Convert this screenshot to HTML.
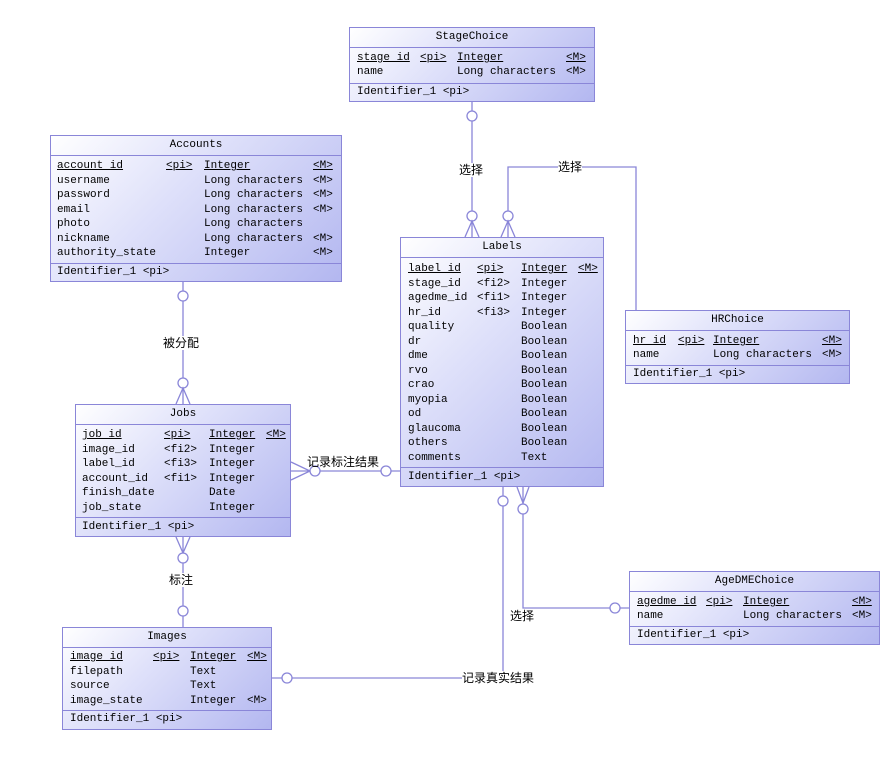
<!DOCTYPE html>
<html><head><meta charset="utf-8"><style>
body{margin:0;width:886px;height:767px;background:#fff;position:relative;overflow:hidden;font-family:"Liberation Mono","Noto Sans CJK SC",monospace;font-size:11px;color:#000}
.e{position:absolute;border:1px solid #8a86d8;background:linear-gradient(135deg,#ffffff 0%,#dfe1fa 40%,#b3b7f0 100%);box-sizing:border-box}
.t{position:absolute;left:0;right:0;top:0;height:19px;line-height:19px;text-align:center;border-bottom:1px solid #8a86d8}
.s{position:absolute;left:0;right:0;border-top:1px solid #8a86d8}
.r{position:absolute;left:0;right:0;height:14px;line-height:14px;white-space:nowrap}
.r span{position:absolute;top:0}
.u{text-decoration:underline}
.lb{position:absolute;font-family:"Liberation Sans","Noto Sans CJK SC",sans-serif;font-size:12px;background:#fff;line-height:14px;white-space:nowrap}
svg{position:absolute;left:0;top:0}
</style></head><body>
<svg width="886" height="767" fill="none" stroke="#8a86d8" stroke-width="1.3">
<line x1="472" y1="102" x2="472" y2="237"/>
<circle cx="472" cy="116" r="5" fill="#fff"/>
<circle cx="472" cy="216" r="5" fill="#fff"/>
<polyline points="465,237 472,221 479,237"/>
<polyline points="508,237 508,167 636,167 636,310"/>
<circle cx="508" cy="216" r="5" fill="#fff"/>
<polyline points="501,237 508,221 515,237"/>
<line x1="183" y1="282" x2="183" y2="404"/>
<circle cx="183" cy="296" r="5" fill="#fff"/>
<circle cx="183" cy="383" r="5" fill="#fff"/>
<polyline points="176,404 183,388 190,404"/>
<line x1="291" y1="471" x2="400" y2="471"/>
<polyline points="291,462 310,471 291,480"/>
<circle cx="315" cy="471" r="5" fill="#fff"/>
<circle cx="386" cy="471" r="5" fill="#fff"/>
<line x1="183" y1="537" x2="183" y2="627"/>
<polyline points="176,537 183,553 190,537"/>
<circle cx="183" cy="558" r="5" fill="#fff"/>
<circle cx="183" cy="611" r="5" fill="#fff"/>
<polyline points="503,487 503,678 272,678"/>
<circle cx="503" cy="501" r="5" fill="#fff"/>
<circle cx="287" cy="678" r="5" fill="#fff"/>
<polyline points="523,487 523,608 629,608"/>
<polyline points="517,487 523,503 529,487"/>
<circle cx="523" cy="509" r="5" fill="#fff"/>
<circle cx="615" cy="608" r="5" fill="#fff"/>
</svg>
<div class="lb" style="left:459px;top:163px">选择</div>
<div class="lb" style="left:558px;top:160px">选择</div>
<div class="lb" style="left:163px;top:336px">被分配</div>
<div class="lb" style="left:307px;top:455px;background:none">记录标注结果</div>
<div class="lb" style="left:169px;top:573px">标注</div>
<div class="lb" style="left:510px;top:609px;background:none">选择</div>
<div class="lb" style="left:462px;top:671px">记录真实结果</div>

<div class="e" style="left:349px;top:27px;width:246px;height:75px">
<div class="t">StageChoice</div>
<div class="r" style="top:23px"><span class="u" style="left:7px">stage id</span><span class="u" style="left:70px">&lt;pi&gt;</span><span class="u" style="left:107px">Integer</span><span class="u" style="left:216px">&lt;M&gt;</span></div>
<div class="r" style="top:37px"><span style="left:7px">name</span><span style="left:107px">Long characters</span><span style="left:216px">&lt;M&gt;</span></div>
<div class="s" style="top:55px"></div>
<div class="r" style="top:57px"><span style="left:7px">Identifier_1 &lt;pi&gt;</span></div>
</div>

<div class="e" style="left:50px;top:135px;width:292px;height:147px">
<div class="t">Accounts</div>
<div class="r" style="top:23px"><span class="u" style="left:6px">account id</span><span class="u" style="left:115px">&lt;pi&gt;</span><span class="u" style="left:153px">Integer</span><span class="u" style="left:262px">&lt;M&gt;</span></div>
<div class="r" style="top:37.5px"><span style="left:6px">username</span><span style="left:153px">Long characters</span><span style="left:262px">&lt;M&gt;</span></div>
<div class="r" style="top:52px"><span style="left:6px">password</span><span style="left:153px">Long characters</span><span style="left:262px">&lt;M&gt;</span></div>
<div class="r" style="top:66.5px"><span style="left:6px">email</span><span style="left:153px">Long characters</span><span style="left:262px">&lt;M&gt;</span></div>
<div class="r" style="top:81px"><span style="left:6px">photo</span><span style="left:153px">Long characters</span></div>
<div class="r" style="top:95.5px"><span style="left:6px">nickname</span><span style="left:153px">Long characters</span><span style="left:262px">&lt;M&gt;</span></div>
<div class="r" style="top:110px"><span style="left:6px">authority_state</span><span style="left:153px">Integer</span><span style="left:262px">&lt;M&gt;</span></div>
<div class="s" style="top:127px"></div>
<div class="r" style="top:129px"><span style="left:6px">Identifier_1 &lt;pi&gt;</span></div>
</div>

<div class="e" style="left:400px;top:237px;width:204px;height:250px">
<div class="t">Labels</div>
<div class="r" style="top:24px"><span class="u" style="left:7px">label id</span><span class="u" style="left:76px">&lt;pi&gt;</span><span class="u" style="left:120px">Integer</span><span class="u" style="left:177px">&lt;M&gt;</span></div>
<div class="r" style="top:38.5px"><span style="left:7px">stage_id</span><span style="left:76px">&lt;fi2&gt;</span><span style="left:120px">Integer</span></div>
<div class="r" style="top:53px"><span style="left:7px">agedme_id</span><span style="left:76px">&lt;fi1&gt;</span><span style="left:120px">Integer</span></div>
<div class="r" style="top:67.5px"><span style="left:7px">hr_id</span><span style="left:76px">&lt;fi3&gt;</span><span style="left:120px">Integer</span></div>
<div class="r" style="top:82px"><span style="left:7px">quality</span><span style="left:120px">Boolean</span></div>
<div class="r" style="top:96.5px"><span style="left:7px">dr</span><span style="left:120px">Boolean</span></div>
<div class="r" style="top:111px"><span style="left:7px">dme</span><span style="left:120px">Boolean</span></div>
<div class="r" style="top:125.5px"><span style="left:7px">rvo</span><span style="left:120px">Boolean</span></div>
<div class="r" style="top:140px"><span style="left:7px">crao</span><span style="left:120px">Boolean</span></div>
<div class="r" style="top:154.5px"><span style="left:7px">myopia</span><span style="left:120px">Boolean</span></div>
<div class="r" style="top:169px"><span style="left:7px">od</span><span style="left:120px">Boolean</span></div>
<div class="r" style="top:183.5px"><span style="left:7px">glaucoma</span><span style="left:120px">Boolean</span></div>
<div class="r" style="top:198px"><span style="left:7px">others</span><span style="left:120px">Boolean</span></div>
<div class="r" style="top:212.5px"><span style="left:7px">comments</span><span style="left:120px">Text</span></div>
<div class="s" style="top:229px"></div>
<div class="r" style="top:232px"><span style="left:7px">Identifier_1 &lt;pi&gt;</span></div>
</div>

<div class="e" style="left:625px;top:310px;width:225px;height:74px">
<div class="t">HRChoice</div>
<div class="r" style="top:23px"><span class="u" style="left:7px">hr id</span><span class="u" style="left:52px">&lt;pi&gt;</span><span class="u" style="left:87px">Integer</span><span class="u" style="left:196px">&lt;M&gt;</span></div>
<div class="r" style="top:37px"><span style="left:7px">name</span><span style="left:87px">Long characters</span><span style="left:196px">&lt;M&gt;</span></div>
<div class="s" style="top:54px"></div>
<div class="r" style="top:56px"><span style="left:7px">Identifier_1 &lt;pi&gt;</span></div>
</div>

<div class="e" style="left:75px;top:404px;width:216px;height:133px">
<div class="t">Jobs</div>
<div class="r" style="top:23px"><span class="u" style="left:6px">job id</span><span class="u" style="left:88px">&lt;pi&gt;</span><span class="u" style="left:133px">Integer</span><span class="u" style="left:190px">&lt;M&gt;</span></div>
<div class="r" style="top:37.6px"><span style="left:6px">image_id</span><span style="left:88px">&lt;fi2&gt;</span><span style="left:133px">Integer</span></div>
<div class="r" style="top:52.2px"><span style="left:6px">label_id</span><span style="left:88px">&lt;fi3&gt;</span><span style="left:133px">Integer</span></div>
<div class="r" style="top:66.8px"><span style="left:6px">account_id</span><span style="left:88px">&lt;fi1&gt;</span><span style="left:133px">Integer</span></div>
<div class="r" style="top:81.4px"><span style="left:6px">finish_date</span><span style="left:133px">Date</span></div>
<div class="r" style="top:96px"><span style="left:6px">job_state</span><span style="left:133px">Integer</span></div>
<div class="s" style="top:112px"></div>
<div class="r" style="top:115px"><span style="left:6px">Identifier_1 &lt;pi&gt;</span></div>
</div>

<div class="e" style="left:629px;top:571px;width:251px;height:74px">
<div class="t">AgeDMEChoice</div>
<div class="r" style="top:23px"><span class="u" style="left:7px">agedme id</span><span class="u" style="left:76px">&lt;pi&gt;</span><span class="u" style="left:113px">Integer</span><span class="u" style="left:222px">&lt;M&gt;</span></div>
<div class="r" style="top:37px"><span style="left:7px">name</span><span style="left:113px">Long characters</span><span style="left:222px">&lt;M&gt;</span></div>
<div class="s" style="top:54px"></div>
<div class="r" style="top:56px"><span style="left:7px">Identifier_1 &lt;pi&gt;</span></div>
</div>

<div class="e" style="left:62px;top:627px;width:210px;height:103px">
<div class="t">Images</div>
<div class="r" style="top:22px"><span class="u" style="left:7px">image id</span><span class="u" style="left:90px">&lt;pi&gt;</span><span class="u" style="left:127px">Integer</span><span class="u" style="left:184px">&lt;M&gt;</span></div>
<div class="r" style="top:36.6px"><span style="left:7px">filepath</span><span style="left:127px">Text</span></div>
<div class="r" style="top:51.2px"><span style="left:7px">source</span><span style="left:127px">Text</span></div>
<div class="r" style="top:65.8px"><span style="left:7px">image_state</span><span style="left:127px">Integer</span><span style="left:184px">&lt;M&gt;</span></div>
<div class="s" style="top:82px"></div>
<div class="r" style="top:84px"><span style="left:7px">Identifier_1 &lt;pi&gt;</span></div>
</div>
</body></html>
